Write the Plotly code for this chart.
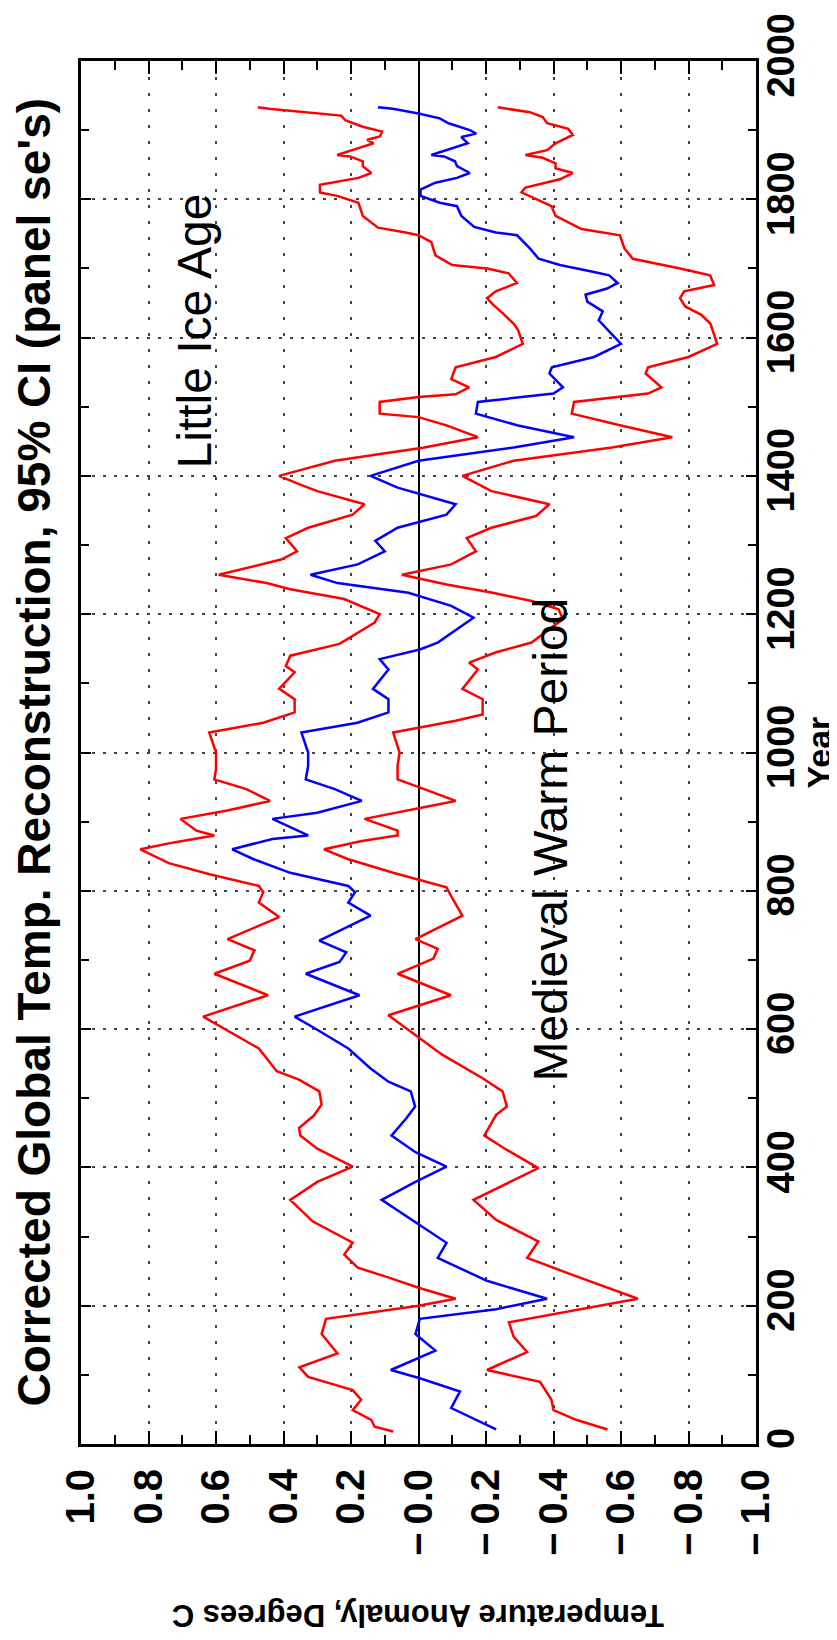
import plotly.graph_objects as go

# upper 95% bound (red)
hi_year = [18, 25, 35, 49, 64, 78, 97, 111, 131, 159, 181, 200, 210, 226, 241, 255, 274, 291,
           322, 353, 379, 401, 427, 446, 457, 475, 491, 510, 527, 539, 572, 601, 618, 649, 680,
           699, 714, 730, 762, 783, 798, 807, 824, 840, 860, 870, 880, 887, 904, 916, 930, 947,
           961, 976, 1000, 1029, 1043, 1058, 1077, 1092, 1116, 1125, 1140, 1157, 1188, 1200,
           1222, 1236, 1245, 1257, 1279, 1291, 1310, 1325, 1344, 1359, 1378, 1388, 1400, 1422,
           1441, 1456, 1473, 1485, 1490, 1507, 1514, 1518, 1528, 1540, 1557, 1572, 1591, 1611,
           1620, 1635, 1648, 1657, 1667, 1679, 1693, 1700, 1705, 1719, 1738, 1748, 1752, 1759,
           1771, 1776, 1795, 1805, 1810, 1821, 1831, 1838, 1848, 1855, 1862, 1864, 1874, 1881,
           1886, 1891, 1898, 1905, 1914, 1921, 1931, 1933]
hi_temp = [0.075, 0.13, 0.14, 0.195, 0.17, 0.195, 0.327, 0.353, 0.24, 0.287, 0.274, 0.0, -0.11,
           0.0, 0.09, 0.18, 0.22, 0.195, 0.314, 0.38, 0.30, 0.195, 0.30, 0.35, 0.354, 0.31, 0.287,
           0.294, 0.354, 0.42, 0.473, 0.579, 0.638, 0.446, 0.605, 0.50, 0.486, 0.566, 0.413,
           0.473, 0.46, 0.473, 0.619, 0.74, 0.824, 0.725, 0.605, 0.658, 0.705, 0.566, 0.44, 0.51,
           0.605, 0.60, 0.60, 0.62, 0.46, 0.367, 0.367, 0.413, 0.367, 0.393, 0.38, 0.234, 0.13,
           0.115, 0.22, 0.38, 0.45, 0.592, 0.407, 0.36, 0.393, 0.327, 0.195, 0.16, 0.30, 0.354,
           0.413, 0.248, -0.017, -0.176, -0.083, 0.0, 0.115, 0.115, 0.0, -0.11, -0.15, -0.097,
           -0.11, -0.229, -0.309, -0.295, -0.282, -0.25, -0.22, -0.203, -0.229, -0.292, -0.267,
           -0.203, -0.10, -0.05, -0.038, 0.0, 0.038, 0.12, 0.152, 0.165, 0.178, 0.241, 0.292,
           0.292, 0.178, 0.14, 0.165, 0.165, 0.203, 0.241, 0.178, 0.133, 0.152, 0.114, 0.108,
           0.165, 0.216, 0.229, 0.444, 0.476]

# reconstruction (blue)
mid_year = [21, 52, 76, 95, 107, 135, 159, 181, 195, 210, 236, 269, 291, 317, 353, 379, 401,
            422, 446, 471, 488, 510, 524, 543, 572, 599, 618, 649, 680, 697, 711, 728, 764, 783,
            798, 807, 826, 846, 860, 875, 880, 904, 913, 930, 947, 961, 981, 1000, 1029, 1043,
            1058, 1077, 1092, 1120, 1135, 1149, 1159, 1195, 1212, 1231, 1245, 1257, 1272, 1291,
            1306, 1325, 1344, 1359, 1383, 1400, 1422, 1441, 1456, 1473, 1490, 1507, 1519, 1528,
            1548, 1557, 1572, 1591, 1625, 1638, 1652, 1662, 1671, 1679, 1690, 1695, 1705, 1714,
            1729, 1748, 1752, 1760, 1776, 1790, 1795, 1805, 1814, 1824, 1831, 1838, 1848, 1855,
            1862, 1864, 1874, 1881, 1890, 1895, 1900, 1910, 1917, 1924, 1931, 1933]
mid_temp = [-0.23, -0.097, -0.123, -0.004, 0.082, -0.05, 0.009, -0.004, -0.23, -0.381, -0.203,
            -0.057, -0.083, -0.004, 0.109, 0.009, -0.083, 0.009, 0.08, 0.036, 0.01, 0.023, 0.089,
            0.142, 0.208, 0.30, 0.367, 0.175, 0.334, 0.234, 0.214, 0.294, 0.142, 0.208, 0.188,
            0.208, 0.38, 0.49, 0.552, 0.433, 0.327, 0.433, 0.30, 0.168, 0.248, 0.334, 0.327,
            0.327, 0.347, 0.181, 0.089, 0.089, 0.135, 0.089, 0.115, -0.004, -0.057, -0.163,
            -0.097, 0.03, 0.24, 0.32, 0.18, 0.10, 0.128, 0.062, -0.083, -0.11, 0.062, 0.142, 0.0,
            -0.282, -0.461, -0.295, -0.17, -0.176, -0.40, -0.428, -0.388, -0.395, -0.52, -0.60,
            -0.534, -0.546, -0.50, -0.495, -0.559, -0.59, -0.565, -0.52, -0.419, -0.356, -0.33,
            -0.292, -0.229, -0.165, -0.127, -0.114, -0.063, -0.006, -0.006, -0.05, -0.114,
            -0.152, -0.114, -0.108, -0.076, -0.038, -0.10, -0.146, -0.127, -0.171, -0.152,
            -0.089, -0.063, 0.0, 0.076, 0.12]

# lower 95% bound (red)
lo_year = [21, 25, 35, 49, 64, 90, 107, 133, 155, 176, 200, 210, 245, 269, 293, 324, 353, 375,
           399, 427, 446, 476, 488, 510, 529, 563, 596, 620, 649, 680, 702, 716, 730, 764, 793,
           805, 826, 846, 860, 872, 880, 887, 904, 918, 930, 947, 961, 981, 1000, 1029, 1046,
           1055, 1077, 1092, 1120, 1130, 1145, 1159, 1193, 1207, 1219, 1231, 1243, 1257, 1272,
           1291, 1310, 1325, 1342, 1359, 1378, 1400, 1422, 1441, 1456, 1473, 1490, 1507, 1519,
           1528, 1548, 1557, 1572, 1591, 1620, 1633, 1645, 1657, 1667, 1676, 1690, 1700, 1714,
           1729, 1748, 1757, 1776, 1790, 1805, 1810, 1817, 1829, 1838, 1845, 1852, 1860, 1864,
           1871, 1881, 1893, 1902, 1910, 1919, 1926, 1933]
lo_temp = [-0.56, -0.533, -0.467, -0.40, -0.394, -0.36, -0.203, -0.322, -0.282, -0.268, -0.543,
           -0.65, -0.454, -0.322, -0.355, -0.23, -0.163, -0.256, -0.355, -0.256, -0.195, -0.23,
           -0.262, -0.249, -0.19, -0.07, 0.023, 0.089, -0.096, 0.062, -0.044, -0.057, 0.009,
           -0.13, -0.096, -0.083, 0.075, 0.21, 0.28, 0.168, 0.062, 0.062, 0.16, 0.02, -0.11,
           -0.017, 0.062, 0.062, 0.056, 0.075, -0.11, -0.19, -0.19, -0.13, -0.176, -0.15, -0.23,
           -0.335, -0.428, -0.415, -0.335, -0.22, -0.083, 0.049, -0.097, -0.17, -0.143, -0.216,
           -0.348, -0.388, -0.216, -0.13, -0.282, -0.573, -0.752, -0.60, -0.454, -0.461, -0.68,
           -0.72, -0.673, -0.68, -0.80, -0.885, -0.865, -0.838, -0.79, -0.775, -0.787, -0.876,
           -0.864, -0.775, -0.635, -0.61, -0.597, -0.483, -0.406, -0.394, -0.33, -0.305, -0.317,
           -0.419, -0.457, -0.406, -0.406, -0.368, -0.317, -0.381, -0.406, -0.457, -0.444,
           -0.381, -0.368, -0.33, -0.235]

temp_ticks = [1.0, 0.8, 0.6, 0.4, 0.2, 0.0, -0.2, -0.4, -0.6, -0.8, -1.0]
temp_labels = ["1.0", "0.8", "0.6", "0.4", "0.2", "\u2212\u20090.0", "\u2212\u20090.2",
               "\u2212\u20090.4", "\u2212\u20090.6", "\u2212\u20090.8", "\u2212\u20091.0"]
year_ticks = [0, 200, 400, 600, 800, 1000, 1200, 1400, 1600, 1800, 2000]

FONT = "Liberation Sans, Arial, sans-serif"

fig = go.Figure()
fig.add_trace(go.Scatter(x=hi_temp, y=hi_year, mode="lines",
                         line=dict(color="#ff0000", width=2.5), showlegend=False))
fig.add_trace(go.Scatter(x=mid_temp, y=mid_year, mode="lines",
                         line=dict(color="#0000ff", width=2.5), showlegend=False))
fig.add_trace(go.Scatter(x=lo_temp, y=lo_year, mode="lines",
                         line=dict(color="#ff0000", width=2.5), showlegend=False))

fig.update_xaxes(range=[1.0, -1.0], tickvals=temp_ticks, ticktext=temp_labels,
                 tickangle=-90, ticks="inside", ticklen=13, tickwidth=1.5, tickcolor="black",
                 minor=dict(dtick=0.1, ticks="inside", ticklen=9, tickcolor="black", showgrid=False),
                 showline=True, linewidth=3, linecolor="black", mirror="ticks",
                 showgrid=True, gridcolor="#444444", gridwidth=1.5, griddash="3px,13px",
                 zeroline=True, zerolinecolor="black", zerolinewidth=1.5,
                 tickfont=dict(family=FONT, size=40, color="black", weight="bold"),
                 ticklabelstandoff=6)
fig.update_yaxes(range=[0, 2000], tickvals=year_ticks, side="right",
                 tickangle=-90, ticks="inside", ticklen=10, tickwidth=1.5, tickcolor="black",
                 minor=dict(dtick=100, ticks="inside", ticklen=8, tickcolor="black", showgrid=False),
                 showline=True, linewidth=3, linecolor="black", mirror="ticks",
                 showgrid=True, gridcolor="#444444", gridwidth=1.5, griddash="3px,8px",
                 zeroline=False,
                 tickfont=dict(family=FONT, size=38, color="black", weight="bold"),
                 ticklabelstandoff=-11)

fig.add_annotation(text="Corrected Global Temp. Reconstruction, 95% CI (panel se's)",
                   xref="paper", yref="paper", x=-0.0711, y=0.5, textangle=-90,
                   showarrow=False, xanchor="center", yanchor="middle",
                   font=dict(family=FONT, size=46, color="black", weight="bold"))
fig.add_annotation(text="Temperature Anomaly, Degrees C", xref="paper", yref="paper",
                   x=0.5, y=-0.124, textangle=180, showarrow=False,
                   xanchor="center", yanchor="middle",
                   font=dict(family=FONT, size=31, color="black", weight="bold"))
fig.add_annotation(text="Year", xref="paper", yref="paper", x=1.0919, y=0.5, textangle=-90,
                   showarrow=False, xanchor="center", yanchor="middle",
                   font=dict(family=FONT, size=34, color="black", weight="bold"))
fig.add_annotation(text="Little Ice Age", x=0.665, y=1609, textangle=-90, showarrow=False,
                   xanchor="center", yanchor="middle",
                   font=dict(family=FONT, size=48, color="black"))
fig.add_annotation(text="Medieval Warm Period", x=-0.392, y=874, textangle=-90,
                   showarrow=False, xanchor="center", yanchor="middle",
                   font=dict(family=FONT, size=48, color="black"))

fig.update_layout(width=837, height=1640, plot_bgcolor="white", paper_bgcolor="white",
                  margin=dict(l=73, r=89, t=53, b=204, autoexpand=False))

fig.write_html("out.html")
